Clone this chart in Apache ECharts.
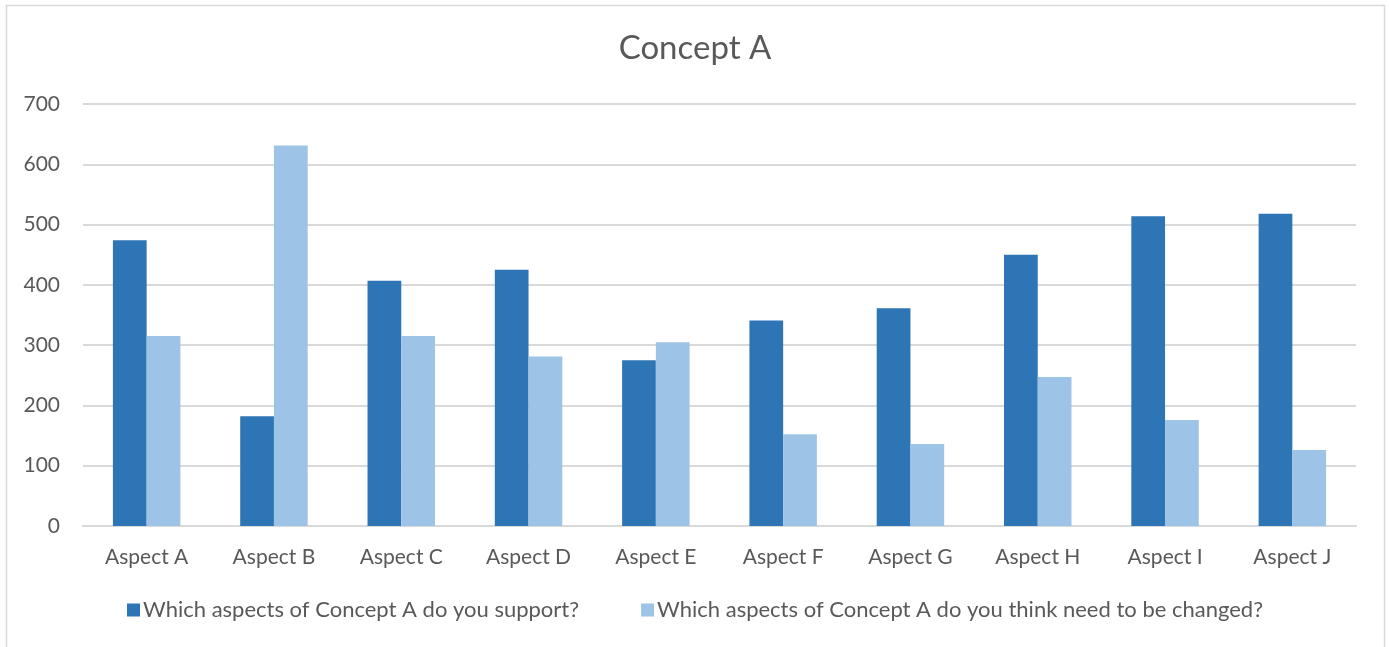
<!DOCTYPE html>
<html>
<head>
<meta charset="utf-8">
<script src="https://cdn.jsdelivr.net/npm/echarts@6/dist/echarts.min.js"></script>
<style>
html,body{margin:0;padding:0;background:#fff;}
#chart{width:1390px;height:647px;}
</style>
</head>
<body>
<div id="chart"></div>
<script>
var categories = ['Aspect A','Aspect B','Aspect C','Aspect D','Aspect E','Aspect F','Aspect G','Aspect H','Aspect I','Aspect J'];
var seriesNames = ['Which aspects of Concept A do you support?','Which aspects of Concept A do you think need to be changed?'];
var supportValues = [474, 182, 407, 425, 275, 341, 361, 450, 514, 518];
var changeValues = [315, 631, 315, 281, 305, 152, 136, 247, 176, 126];
var yTicks = [0, 100, 200, 300, 400, 500, 600, 700];

var font = 'Lato, "Open Sans", sans-serif';
var chart = echarts.init(document.getElementById('chart'), null, {renderer:'canvas'});
chart.setOption({
  animation:false,
  backgroundColor:'#fff',
  textStyle:{fontFamily:font},
  graphic:[{type:'rect', shape:{x:6.5,y:5.5,width:1378,height:660}, style:{fill:'none', stroke:'#d9d9d9', lineWidth:1.5}, silent:true}],
  title:{text:'Concept A', left:'center', top:27, textStyle:{fontFamily:font, fontSize:33, fontWeight:'normal', color:'#595959'}},
  legend:{bottom:21, left:'center', itemWidth:13, itemHeight:13, itemGap:62, icon:'rect',
    textStyle:{fontFamily:font, fontSize:22, color:'#595959', padding:[0,0,0,-2]}},
  grid:{left:83, right:34, top:104, bottom:121, containLabel:false},
  xAxis:{type:'category', data:categories,
    axisLine:{lineStyle:{color:'#d9d9d9', width:2}}, axisTick:{show:false},
    axisLabel:{fontFamily:font, fontSize:21, color:'#595959', margin:21}},
  yAxis:{type:'value', min:yTicks[0], max:yTicks[yTicks.length-1], interval:100,
    axisLine:{show:false}, axisTick:{show:false},
    splitLine:{lineStyle:{color:'#d9d9d9', width:2}},
    axisLabel:{fontFamily:font, fontSize:21, color:'#595959', margin:23}},
  series:[
    {name:seriesNames[0], type:'bar', data:supportValues, barGap:'0%', barCategoryGap:'47%',
      itemStyle:{color:'#2E75B6'}},
    {name:seriesNames[1], type:'bar', data:changeValues,
      itemStyle:{color:'#9DC3E6'}}
  ]
});
</script>
</body>
</html>
